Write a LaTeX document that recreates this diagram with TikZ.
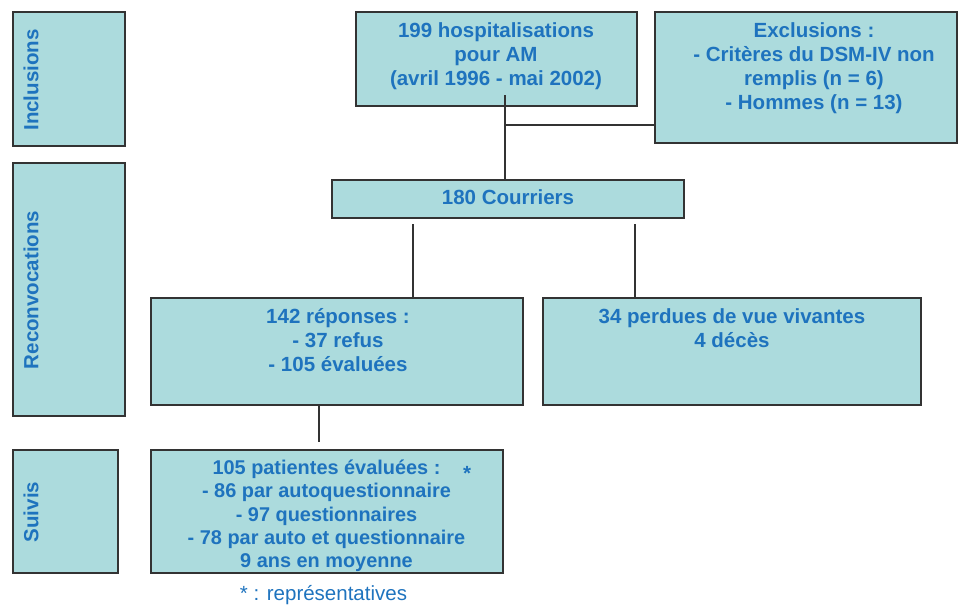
\documentclass[tikz,border=0pt]{standalone}
\usepackage{fontspec}
\setmainfont{Liberation Sans}
\definecolor{boxfill}{RGB}{172,219,221}
\definecolor{txtblue}{RGB}{30,115,190}
\definecolor{edgegray}{RGB}{51,51,51}
\tikzset{
  box/.style={draw=edgegray, line width=1.6pt, fill=boxfill, inner sep=0pt},
  txt/.style={text=txtblue, font=\bfseries\fontsize{20.5}{24}\selectfont, align=center, inner sep=0pt, anchor=north},
  side/.style={text=txtblue, font=\bfseries\fontsize{20.5}{24}\selectfont, rotate=90, inner sep=0pt, anchor=center},
  link/.style={draw=edgegray, line width=1.3pt}
}
\begin{document}
\begin{tikzpicture}[x=1pt,y=-1pt]
\useasboundingbox (0,0) rectangle (958,606);
% side boxes
\node[box, minimum width=112, minimum height=134] (inc) at (69,79) {};
\node[box, minimum width=112, minimum height=253] (rec) at (69,289.5) {};
\node[box, minimum width=105, minimum height=123] (sui) at (65.5,511.5) {};
\node[side] (tinc) at (31,80) {Inclusions};
\node[side] (trec) at (31,290) {Reconvocations};
\node[side] (tsui) at (31,512) {Suivis};
% main boxes
\node[box, minimum width=281, minimum height=94] (b199) at (496.5,59) {};
\node[box, minimum width=302, minimum height=131] (excl) at (806,77.5) {};
\node[box, minimum width=352, minimum height=38] (cour) at (508,199) {};
\node[box, minimum width=372, minimum height=107] (rep) at (337,351.5) {};
\node[box, minimum width=378, minimum height=107] (perd) at (732,351.5) {};
\node[box, minimum width=352, minimum height=123] (pat) at (327,511.5) {};
% texts
\node[txt] (t199) at (496,22) {199 hospitalisations\\pour AM\\(avril 1996 - mai 2002)};
\node[txt] (texcl) at (814,22) {Exclusions :\\- Critères du DSM-IV non\\remplis (n = 6)\\- Hommes (n = 13)};
\node[txt] (tcour) at (508,189.5) {180 Courriers};
\node[txt] (trep) at (338,308) {142 réponses :\\- 37 refus\\- 105 évaluées};
\node[txt] (tperd) at (732,308) {34 perdues de vue vivantes\\4 décès};
\node[txt, font=\bfseries\fontsize{19.9}{23.1}\selectfont] (tpat) at (326.5,460) {105 patientes évaluées :\\- 86 par autoquestionnaire\\- 97 questionnaires\\- 78 par auto et questionnaire\\9 ans en moyenne};
\node[text=txtblue, font=\bfseries\fontsize{20.5}{24}\selectfont, inner sep=0pt] (star) at (467,473) {*};
\node[text=txtblue, font=\fontsize{20.5}{24}\selectfont, inner sep=0pt, anchor=base] (foot) at (323.5,600.5) {* : représentatives};
% connectors
\coordinate (s1) at (505,95);
\coordinate (j1) at (505,125);
\draw[link] (s1) -- (s1 |- cour.north);
\draw[link] (j1) -- (j1 -| excl.west);
\coordinate (c1) at (413,224);
\coordinate (c2) at (635,224);
\draw[link] (c1) -- (c1 |- rep.north);
\draw[link] (c2) -- (c2 |- perd.north);
\coordinate (r1) at (319,404);
\coordinate (r2) at (319,442);
\draw[link] (r1) -- (r2);
\end{tikzpicture}
\end{document}
